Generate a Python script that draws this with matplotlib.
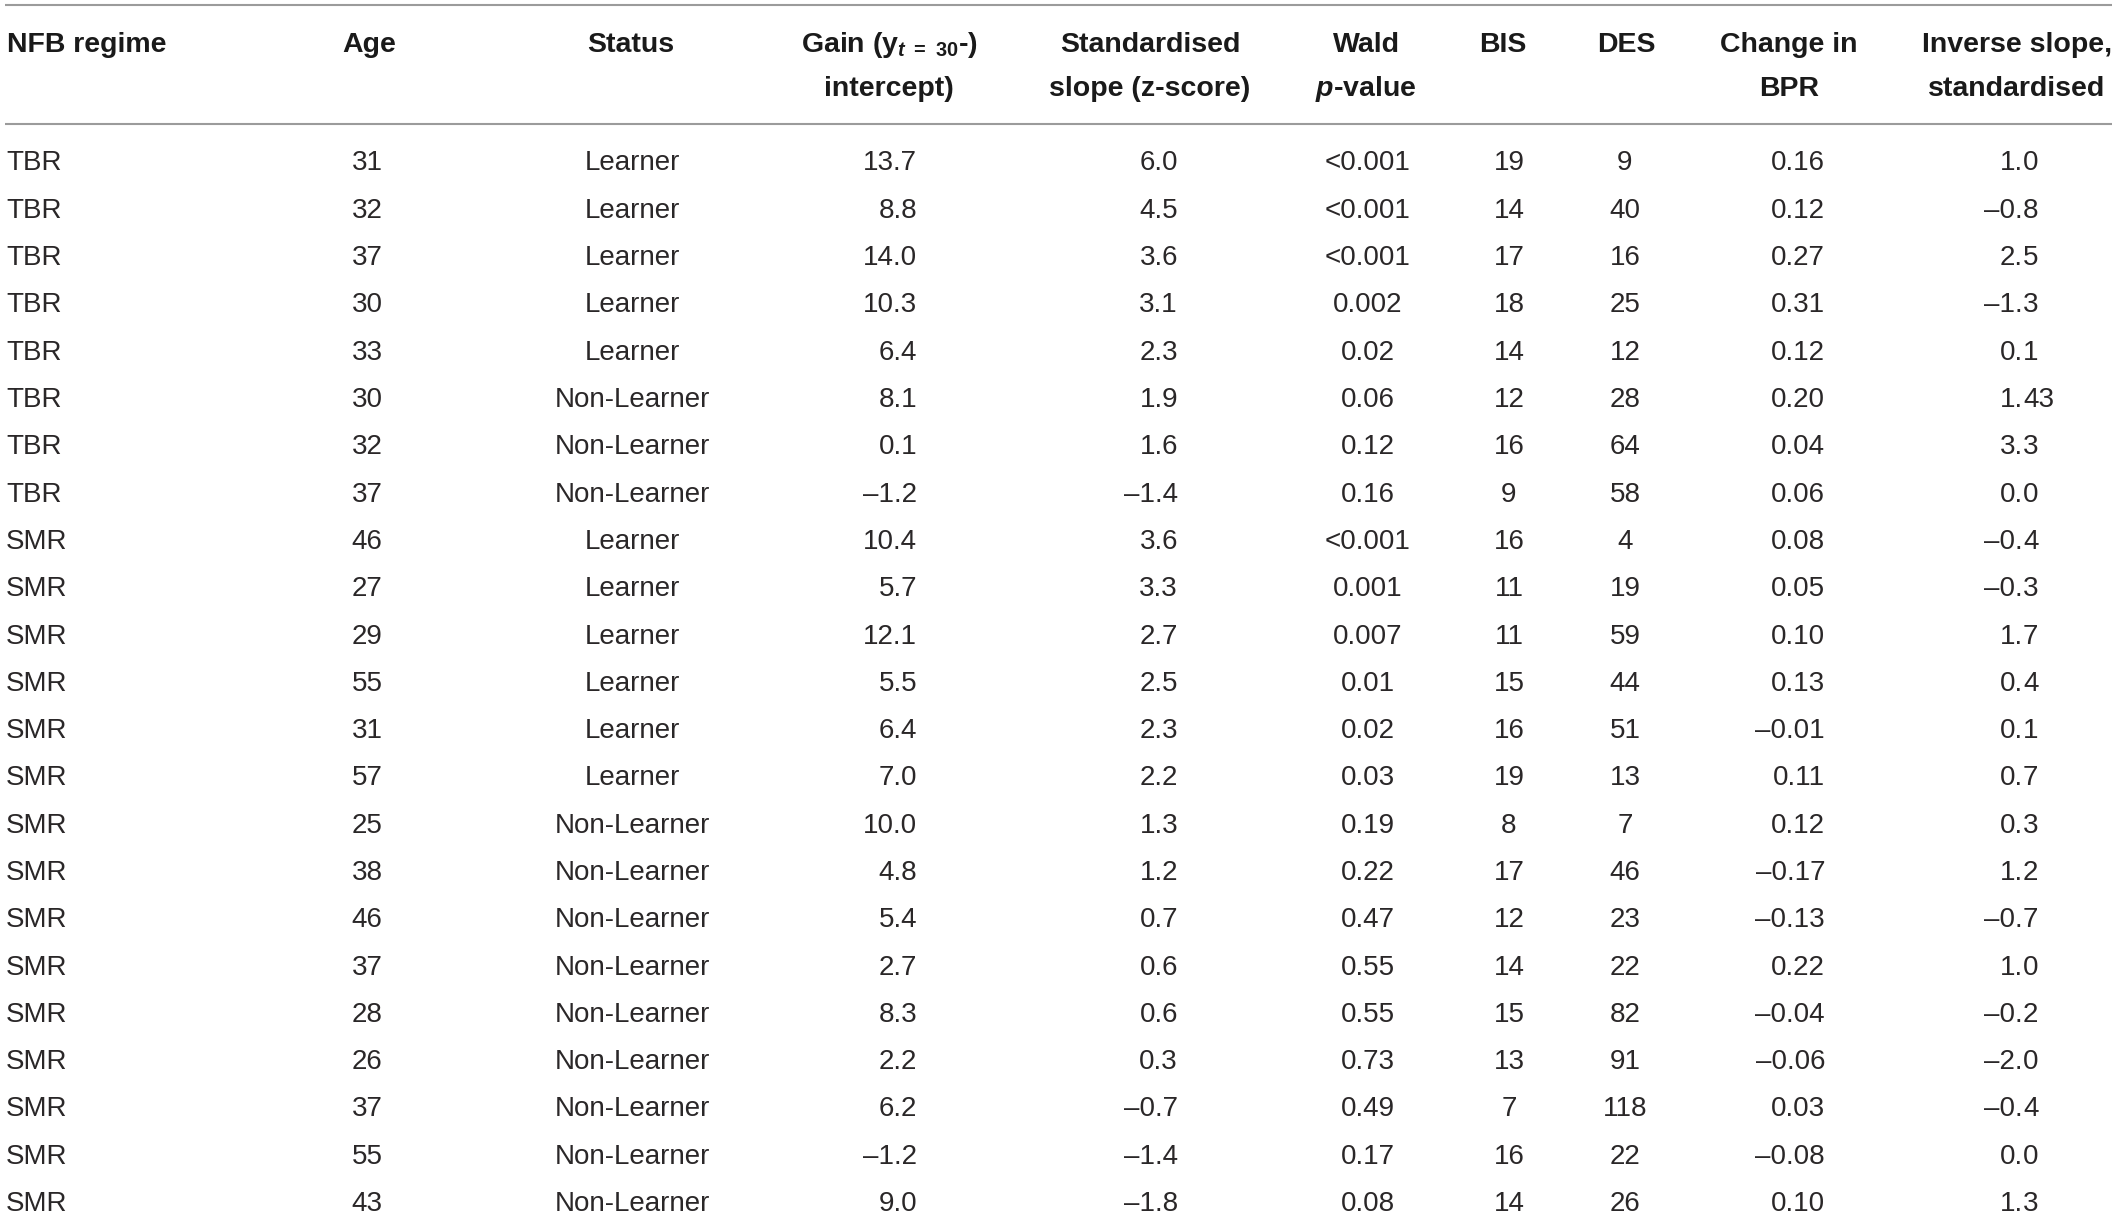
import matplotlib
matplotlib.use("Agg")
import matplotlib.pyplot as plt

plt.rcParams['font.family'] = ['Liberation Sans', 'DejaVu Sans']
plt.rcParams['mathtext.fontset'] = 'custom'
plt.rcParams['mathtext.rm'] = 'Liberation Sans:bold'
plt.rcParams['mathtext.it'] = 'Liberation Sans:italic:bold'
plt.rcParams['mathtext.bf'] = 'Liberation Sans:bold'

# ---- data ----
headers_line1 = ["NFB regime", "Age", "Status", r"Gain (y$_{t\ =\ 30}$-)", "Standardised",
                 "Wald", "BIS", "DES", "Change in", "Inverse slope,"]
headers_line2 = ["", "", "", "intercept)", "slope (z-score)",
                 r"$p$-value", "", "", "BPR", "standardised"]

regime = ["TBR"] * 8 + ["SMR"] * 15
age = [31, 32, 37, 30, 33, 30, 32, 37, 46, 27, 29, 55, 31, 57, 25, 38, 46, 37, 28, 26, 37, 55, 43]
status = (["Learner"] * 5 + ["Non-Learner"] * 3 + ["Learner"] * 6 + ["Non-Learner"] * 9)
gain = ["13.7", "8.8", "14.0", "10.3", "6.4", "8.1", "0.1", "\u20131.2",
        "10.4", "5.7", "12.1", "5.5", "6.4", "7.0", "10.0", "4.8", "5.4", "2.7", "8.3",
        "2.2", "6.2", "\u20131.2", "9.0"]
slope = ["6.0", "4.5", "3.6", "3.1", "2.3", "1.9", "1.6", "\u20131.4",
         "3.6", "3.3", "2.7", "2.5", "2.3", "2.2", "1.3", "1.2", "0.7", "0.6", "0.6",
         "0.3", "\u20130.7", "\u20131.4", "\u20131.8"]
wald_p = ["<0.001", "<0.001", "<0.001", "0.002", "0.02", "0.06", "0.12", "0.16",
          "<0.001", "0.001", "0.007", "0.01", "0.02", "0.03", "0.19", "0.22", "0.47",
          "0.55", "0.55", "0.73", "0.49", "0.17", "0.08"]
bis = [19, 14, 17, 18, 14, 12, 16, 9, 16, 11, 11, 15, 16, 19, 8, 17, 12, 14, 15, 13, 7, 16, 14]
des = [9, 40, 16, 25, 12, 28, 64, 58, 4, 19, 59, 44, 51, 13, 7, 46, 23, 22, 82, 91, 118, 22, 26]
bpr = ["0.16", "0.12", "0.27", "0.31", "0.12", "0.20", "0.04", "0.06",
       "0.08", "0.05", "0.10", "0.13", "\u20130.01", "0.11", "0.12", "\u20130.17", "\u20130.13",
       "0.22", "\u20130.04", "\u20130.06", "0.03", "\u20130.08", "0.10"]
inv_slope = ["1.0", "\u20130.8", "2.5", "\u20131.3", "0.1", "1.43", "3.3", "0.0",
             "\u20130.4", "\u20130.3", "1.7", "0.4", "0.1", "0.7", "0.3", "1.2", "\u20130.7",
             "1.0", "\u20130.2", "\u20132.0", "\u20130.4", "0.0", "1.3"]

# ---- layout ----
W, H = 2120, 1217
fig = plt.figure(figsize=(W / 100, H / 100), dpi=100)
ax = fig.add_axes([0, 0, 1, 1])
ax.set_xlim(0, W)
ax.set_ylim(H, 0)
ax.axis("off")

line_col = "#9b9b9b"
ax.plot([5, 2112], [5, 5], color=line_col, lw=1.5, solid_capstyle="butt")
ax.plot([5, 2112], [124, 124], color=line_col, lw=1.5, solid_capstyle="butt")

hdr_x = [7, 369, 631, 889, 1150, 1366, 1503, 1626, 1789, 2017]
hdr_ha = ["left"] + ["center"] * 9
hfs = 20.5
for x, ha, t1, t2 in zip(hdr_x, hdr_ha, headers_line1, headers_line2):
    ax.text(x, 51.5, t1, ha=ha, va="baseline", fontsize=hfs, fontweight="bold", color="#1a1a1a")
    if t2:
        ax.text(x, 96.5, t2, ha=ha, va="baseline", fontsize=hfs, fontweight="bold", color="#1a1a1a")

bfs = 20
tc = "#2a2728"
row0, pitch = 170.5, 47.3
for i in range(len(regime)):
    y = row0 + i * pitch
    kw = dict(va="baseline", fontsize=bfs, color=tc)
    ax.text(6, y, regime[i], ha="left", **kw)
    ax.text(367, y, str(age[i]), ha="center", **kw)
    ax.text(632, y, status[i], ha="center", **kw)
    ax.text(917, y, gain[i], ha="right", **kw)
    ax.text(1178, y, slope[i], ha="right", **kw)
    ax.text(1368, y, wald_p[i], ha="center", **kw)
    ax.text(1509, y, str(bis[i]), ha="center", **kw)
    ax.text(1625, y, str(des[i]), ha="center", **kw)
    ax.text(1825, y, bpr[i], ha="right", **kw)
    ip, fp = inv_slope[i].split(".")
    ax.text(2023, y, ip + ".", ha="right", **kw)
    ax.text(2023, y, fp, ha="left", **kw)

fig.savefig("out.png", dpi=100, facecolor="white")
